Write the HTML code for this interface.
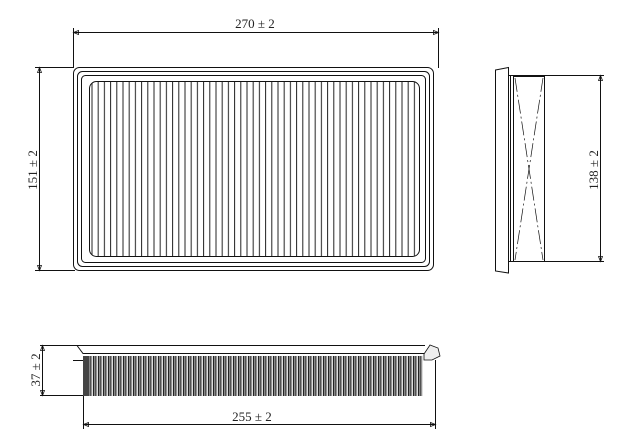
<!DOCTYPE html>
<html><head><style>
html,body{margin:0;padding:0;background:#fff;}
svg{display:block}
text{font-family:"Liberation Serif",serif;font-size:13px;fill:#222}
</style></head><body>
<svg width="627" height="447" viewBox="0 0 627 447" xmlns="http://www.w3.org/2000/svg">
<defs>
<pattern id="pl" x="90" y="0" width="6.2" height="10" patternUnits="userSpaceOnUse">
<line x1="2" y1="0" x2="2" y2="10" stroke="#222" stroke-width="1"/>
</pattern>
<pattern id="pb" x="83" y="0" width="5" height="10" patternUnits="userSpaceOnUse">
<rect x="0" y="0" width="5" height="10" fill="#ddd"/>
<rect x="0" y="0" width="1" height="10" fill="#222"/>
<rect x="1" y="0" width="1.4" height="10" fill="#888"/>
<rect x="2.4" y="0" width="1" height="10" fill="#222"/>
</pattern>
</defs>
<g fill="none" stroke="#111" stroke-width="1">
<rect x="73.5" y="67.5" width="360" height="203" rx="6"/>
<rect x="77.5" y="71.5" width="352" height="195" rx="5"/>
<rect x="81.5" y="75.5" width="344" height="187" rx="4"/>
<rect x="89.5" y="81.5" width="330" height="175" rx="7" fill="url(#pl)"/>
<line x1="73.5" y1="28" x2="73.5" y2="68"/>
<line x1="438.5" y1="28" x2="438.5" y2="68"/>
<line x1="73.5" y1="32.5" x2="438.5" y2="32.5"/>
<line x1="35" y1="67.5" x2="74" y2="67.5"/>
<line x1="35" y1="270.5" x2="75" y2="270.5"/>
<line x1="39.5" y1="67.5" x2="39.5" y2="270.5"/>
</g>
<g fill="none" stroke="#111" stroke-width="0.8">
<path d="M73.5 32.5 l5 -2 v4 z"/><path d="M438.5 32.5 l-5 -2 v4 z"/>
<path d="M39.5 67.5 l-2 5 h4 z"/><path d="M39.5 270.5 l-2 -5 h4 z"/>
</g>
<text x="255" y="28" text-anchor="middle">270 ± 2</text>
<text transform="translate(37,170) rotate(-90)" text-anchor="middle">151 ± 2</text>
<g fill="none" stroke="#111" stroke-width="1">
<path d="M495.5 70 L508.5 67.5 L508.5 273 L495.5 271 Z"/>
<rect x="510.5" y="75.5" width="3" height="186"/>
<rect x="513.5" y="76.5" width="31" height="185"/>
<line x1="508" y1="75.5" x2="604" y2="75.5"/>
<line x1="508" y1="261.5" x2="604" y2="261.5"/>
<line x1="600.5" y1="75.5" x2="600.5" y2="261.5"/>
<line x1="515" y1="78" x2="543" y2="260" stroke-dasharray="14 3 2 3" stroke-width="0.7"/>
<line x1="543" y1="78" x2="515" y2="260" stroke-dasharray="14 3 2 3" stroke-width="0.7"/>
<path d="M600.5 75.5 l-2 5 h4 z M600.5 261.5 l-2 -5 h4 z" stroke-width="0.8"/>
</g>
<text transform="translate(598,170) rotate(-90)" text-anchor="middle">138 ± 2</text>
<g fill="none" stroke="#111" stroke-width="1">
<line x1="40" y1="345.5" x2="425" y2="345.5"/>
<path d="M77 345.5 L83 353.5 L425 353.5"/>
<line x1="40" y1="395.5" x2="83" y2="395.5"/>
<line x1="73" y1="360.5" x2="83" y2="360.5"/>
<line x1="42.5" y1="345.5" x2="42.5" y2="395.5"/>
<path d="M42.5 345.5 l-2 5 h4 z M42.5 395.5 l-2 -5 h4 z" stroke-width="0.8"/>
<line x1="83.5" y1="356" x2="83.5" y2="429"/>
<line x1="435.5" y1="360" x2="435.5" y2="429"/>
<line x1="83.5" y1="424.5" x2="435.5" y2="424.5"/>
<path d="M83.5 424.5 l5 -2 v4 z M435.5 424.5 l-5 -2 v4 z" stroke-width="0.8"/>
</g>
<rect x="83" y="356" width="340" height="40" fill="url(#pb)"/>
<rect x="83" y="356" width="6" height="40" fill="#444"/>
<path d="M424 354 L430 345 L438 348 L440 356 L432 360 L424 360 Z" fill="#eee" stroke="#111" stroke-width="0.8"/>
<text x="252" y="421" text-anchor="middle">255 ± 2</text>
<text transform="translate(40,370) rotate(-90)" text-anchor="middle">37 ± 2</text>
</svg>
</body></html>
